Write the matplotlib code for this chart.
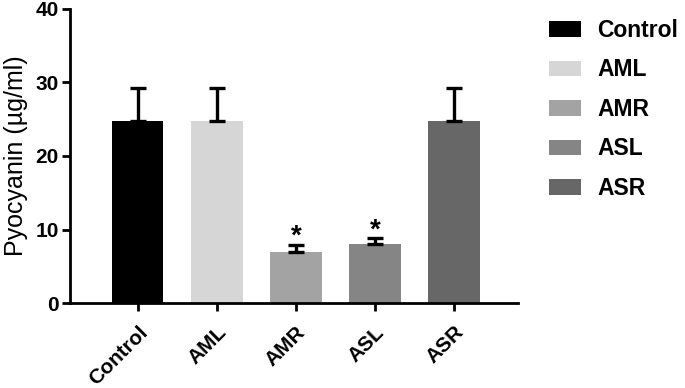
import matplotlib
matplotlib.use("Agg")
import matplotlib.pyplot as plt
from matplotlib.patches import Patch

categories = ["Control", "AML", "AMR", "ASL", "ASR"]
means = [24.8, 24.8, 7.0, 8.0, 24.8]
errors = [4.4, 4.4, 0.9, 0.8, 4.4]
colors = ["#000000", "#d6d6d6", "#a3a3a3", "#858585", "#676767"]
significant = [False, False, True, True, False]
yticks = [0, 10, 20, 30, 40]

plt.rcParams['font.family'] = ['Liberation Sans', 'DejaVu Sans']
plt.rcParams['font.weight'] = 'bold'

fig = plt.figure(figsize=(6.85, 3.88), dpi=100)
ax = fig.add_axes([0.102, 0.219, 0.654, 0.758])

x = list(range(len(categories)))
ax.bar(x, means, width=0.65, color=colors, zorder=2)
ax.errorbar(x, means, yerr=[[0]*len(errors), errors], fmt='none', ecolor='black',
            elinewidth=2.4, capsize=6, capthick=2.4, zorder=3)
for xi, m, e, s in zip(x, means, errors, significant):
    if s:
        ax.text(xi, m + e - 0.7, "*", ha='center', va='bottom', fontsize=20, fontweight='bold')

ax.set_xlim(-0.86, 4.81)
ax.set_ylim(0, 40)
ax.set_yticks(yticks)
ax.set_xticks(x)
ax.set_xticklabels(categories, rotation=45, ha='right', rotation_mode='anchor', fontsize=15, fontweight='bold')
ax.tick_params(axis='y', labelsize=15, width=2, length=6, pad=2)
ax.tick_params(axis='x', width=2, length=6, pad=8)
for lbl in ax.get_yticklabels():
    lbl.set_fontweight('bold')
ax.set_ylabel("Pyocyanin (µg/ml)", fontsize=18, fontweight='normal', labelpad=5)
for sp in ['top', 'right']:
    ax.spines[sp].set_visible(False)
for sp in ['left', 'bottom']:
    ax.spines[sp].set_linewidth(2)

handles = [Patch(facecolor=c, edgecolor='none', label=l) for c, l in zip(colors, categories)]
fig.legend(handles=handles, loc='upper left', bbox_to_anchor=(0.788, 0.975), frameon=False,
           borderaxespad=0, prop={'size': 16.5, 'weight': 'bold'}, handlelength=1.4,
           handleheight=0.66, labelspacing=0.72, handletextpad=0.7)

fig.savefig("out.png", dpi=100)
